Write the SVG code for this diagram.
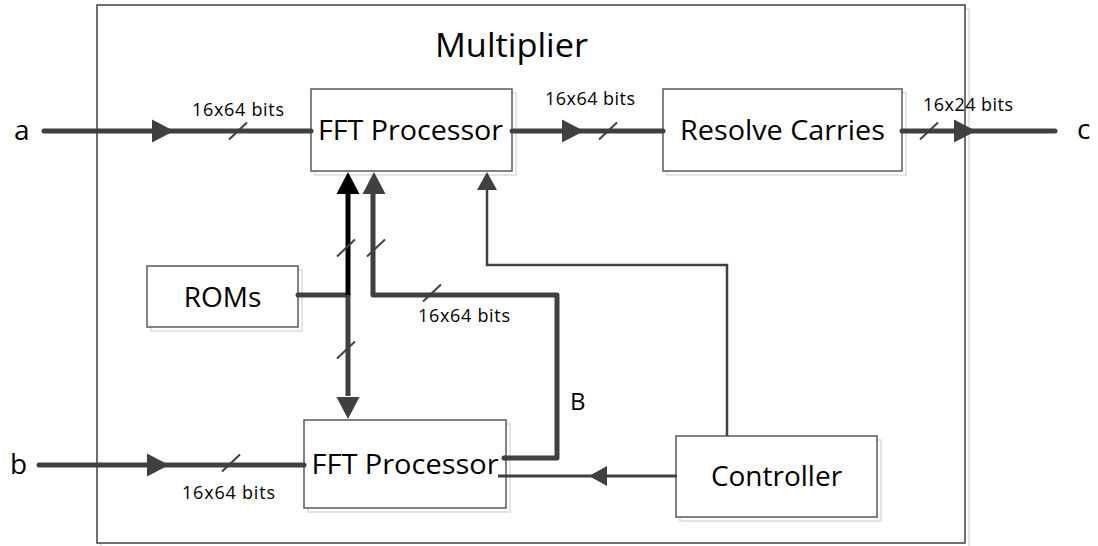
<svg xmlns="http://www.w3.org/2000/svg" xmlns:xlink="http://www.w3.org/1999/xlink" width="1098" height="546" viewBox="0 0 1098 546">
<style>
.box{fill:#fff;stroke:#5a5a5a;stroke-width:1.5}
.shadow{fill:none;stroke:#dcdcdc;stroke-width:1.5}
.t{font-family:"Open Sans","Liberation Sans",sans-serif;fill:#000;text-anchor:middle}
.big{font-size:28px}
.lbl{font-family:"Open Sans","Liberation Sans",sans-serif;font-size:18px;fill:#000}
.thick{fill:none;stroke:#404040;stroke-width:5;stroke-linecap:round;stroke-linejoin:miter}
.thin{fill:none;stroke:#404040;stroke-width:2.5}
.tick{stroke:#404040;stroke-width:2;fill:none}
.ah{fill:#404040}
</style>
<defs>
<path id="ahBig" d="M0,0 L-22,-11.5 L-22,11.5 Z"/>
<path id="ahSmall" d="M0,0 L-18,-10 L-18,10 Z"/>
<path id="tk" d="M-9,8.5 L9,-8.5"/>
</defs>
<rect width="1098" height="546" fill="#fff"/>

<g id="multiplier">
<rect x="101" y="9" width="868" height="538" class="shadow"/>
<rect x="97" y="5" width="868" height="538" fill="#fff" stroke="#404040" stroke-width="1.5"/>
<text x="511.5" y="57" class="t" font-size="32" textLength="153" lengthAdjust="spacingAndGlyphs">Multiplier</text>
</g>

<g id="fft1">
<rect x="315" y="93" width="201" height="82" class="shadow"/>
<rect x="311" y="89" width="201" height="82" class="box"/>
<text x="410.5" y="140" class="t big" textLength="185" lengthAdjust="spacingAndGlyphs">FFT Processor</text>
</g>

<g id="resolve">
<rect x="667" y="93" width="239" height="82" class="shadow"/>
<rect x="663" y="89" width="239" height="82" class="box"/>
<text x="782.5" y="140" class="t big" textLength="205" lengthAdjust="spacingAndGlyphs">Resolve Carries</text>
</g>

<g id="roms">
<rect x="151" y="270" width="151" height="61" class="shadow"/>
<rect x="147" y="266" width="151" height="61" class="box"/>
<text x="222.5" y="307" class="t big">ROMs</text>
</g>

<g id="fft2">
<rect x="308" y="424" width="202" height="88" class="shadow"/>
<rect x="304" y="420" width="202" height="88" class="box"/>
<text x="405" y="474" class="t big" textLength="187" lengthAdjust="spacingAndGlyphs">FFT Processor</text>
</g>

<g id="controller">
<rect x="680" y="440" width="201" height="81" class="shadow"/>
<rect x="676" y="436" width="201" height="81" class="box"/>
<text x="776.5" y="486" class="t big">Controller</text>
</g>

<g id="connectors">
<path class="thick" d="M44,131 H311"/>
<use xlink:href="#ahBig" class="ah" transform="translate(174,131)"/>
<use xlink:href="#tk" class="tick" transform="translate(238,131)"/>
<path class="thick" d="M512,131 H663"/>
<use xlink:href="#ahBig" class="ah" transform="translate(584,131)"/>
<use xlink:href="#tk" class="tick" transform="translate(608,131)"/>
<path class="thick" d="M902,131 H1055"/>
<use xlink:href="#ahBig" class="ah" transform="translate(976,131)"/>
<use xlink:href="#tk" class="tick" transform="translate(929,131)"/>
<path class="thick" d="M39,465 H304"/>
<use xlink:href="#ahBig" class="ah" transform="translate(169,465)"/>
<use xlink:href="#tk" class="tick" transform="translate(231,463)"/>
<path class="thick" d="M298,295 H348"/>
<path d="M348,295 V396" fill="none" stroke="#404040" stroke-width="5"/>
<use xlink:href="#ahBig" class="ah" transform="translate(348,419) rotate(90)"/>
<path d="M348,295 V192" fill="none" stroke="#000" stroke-width="5"/>
<use xlink:href="#ahBig" fill="#000" transform="translate(348,172) rotate(-90)"/>
<use xlink:href="#tk" class="tick" transform="translate(346,248)"/>
<use xlink:href="#tk" class="tick" transform="translate(346,350)"/>
<path d="M504,458 H557 V295 H373 V192" fill="none" stroke="#404040" stroke-width="5" stroke-linejoin="round"/>
<circle cx="504" cy="458" r="2.5" fill="#404040"/>
<use xlink:href="#ahBig" class="ah" transform="translate(374,172) rotate(-90)"/>
<use xlink:href="#tk" class="tick" transform="translate(376,248)"/>
<use xlink:href="#tk" class="tick" transform="translate(432,293)"/>
<path class="thin" d="M727,436 V265 H487 V186"/>
<use xlink:href="#ahSmall" class="ah" transform="translate(487,172) rotate(-90)"/>
<path d="M677,476 H498" fill="none" stroke="#404040" stroke-width="3"/>
<use xlink:href="#ahSmall" class="ah" transform="translate(589,476) rotate(180)"/>
</g>

<g id="labels">
<text x="14" y="140" class="t" font-size="28" style="text-anchor:start">a</text>
<text x="10" y="474" class="t" font-size="28" style="text-anchor:start">b</text>
<text x="1077" y="139" class="t" font-size="28" style="text-anchor:start">c</text>
<text x="570" y="410" class="t" font-size="24" style="text-anchor:start">B</text>
<text x="192" y="116" class="lbl" textLength="92">16x64 bits</text>
<text x="545" y="105" class="lbl" textLength="90">16x64 bits</text>
<text x="923" y="111" class="lbl" textLength="90">16x24 bits</text>
<text x="418" y="322" class="lbl" textLength="92">16x64 bits</text>
<text x="182" y="499" class="lbl" textLength="93">16x64 bits</text>
</g>
</svg>
